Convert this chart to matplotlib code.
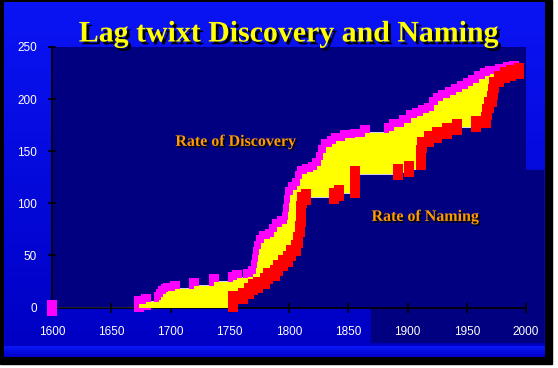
import numpy as np
import matplotlib.pyplot as plt
import matplotlib.patheffects as pe
from matplotlib.patches import Rectangle
from matplotlib.colors import LinearSegmentedColormap

# cumulative count of species discovered (magenta) and named (red)
disc_years = [1600, 1673, 1679, 1690, 1692, 1694, 1696, 1698, 1704, 1720, 1737, 1753, 1756,
              1765, 1770, 1772, 1773, 1774, 1775, 1776, 1779, 1784, 1787, 1790, 1794, 1798,
              1799, 1800, 1801, 1803, 1807, 1809, 1811, 1815, 1820, 1824, 1827, 1829, 1831,
              1836, 1840, 1847, 1856, 1864, 1884, 1889, 1897, 1903, 1908, 1913, 1918, 1922,
              1926, 1930, 1936, 1941, 1946, 1951, 1955, 1960, 1965, 1970, 1978, 1985, 1990]
disc_counts = [0, 3, 5, 7, 10, 13, 15, 16, 18, 21, 24, 26, 28,
               29, 32, 38, 44, 50, 56, 62, 66, 68, 72, 77, 80, 84,
               92, 100, 108, 113, 117, 123, 128, 130, 132, 136, 142, 148, 154,
               157, 160, 163, 164, 167, 169, 173, 177, 182, 184, 187, 189, 194,
               198, 201, 204, 207, 210, 213, 215, 219, 222, 224, 226, 228, 229]

name_years = [1753, 1753, 1761, 1766, 1770, 1774, 1780, 1782, 1788, 1791, 1795, 1799, 1802,
              1806, 1808, 1809, 1810, 1810, 1811, 1814, 1838, 1842, 1856, 1856, 1856, 1892,
              1901, 1911, 1911, 1912, 1918, 1925, 1933, 1942, 1958, 1966, 1967, 1969, 1971,
              1972, 1973, 1977, 1982, 1987, 1994]
name_counts = [3, 8, 11, 16, 20, 22, 25, 30, 33, 38, 43, 47, 52,
               57, 65, 75, 85, 95, 103, 106, 107, 110, 113, 120, 128, 130,
               133, 140, 148, 156, 162, 166, 169, 173, 176, 180, 188, 194, 200,
               207, 214, 219, 223, 225, 227]

x_ticks = [1600, 1650, 1700, 1750, 1800, 1850, 1900, 1950, 2000]
y_ticks = [0, 50, 100, 150, 200, 250]

navy = '#000080'

fig = plt.figure(figsize=(5.58, 3.68), dpi=100)
fig.patch.set_facecolor('white')

# slide background drawn in pixel coordinates
bg = fig.add_axes([0, 0, 1, 1], zorder=0)
bg.axis('off')
bg.add_patch(Rectangle((0, 0), 552, 364, color='black', zorder=0))
grad = np.linspace(0, 1, 256).reshape(-1, 1)
bg.imshow(grad, cmap=LinearSegmentedColormap.from_list('bg', ['#0a14f4', '#0000c4']),
          extent=(4, 545, 346, 2), aspect='auto', zorder=1)
band = np.linspace(0, 1, 64).reshape(-1, 1)
bg.imshow(band, cmap=LinearSegmentedColormap.from_list('band', ['#0a18f8', '#0000c8']),
          extent=(4, 545, 357, 346), aspect='auto', zorder=1)
bg.add_patch(Rectangle((525, 170), 18, 140, color=navy, zorder=2))
bg.add_patch(Rectangle((371, 308), 172, 34, color=navy, zorder=2))
bg.set_xlim(0, 558)
bg.set_ylim(368, 0)

ax = fig.add_axes([0.0932, 0.1644, 0.8495, 0.7079], zorder=1)
ax.set_facecolor(navy)

# step values on a common grid for the fill between the two curves
grid = np.union1d(disc_years, name_years)
d_idx = np.searchsorted(disc_years, grid, side='right') - 1
n_idx = np.searchsorted(name_years, grid, side='right') - 1
d_vals = np.array(disc_counts)[d_idx]
n_vals = np.where(n_idx >= 0, np.array(name_counts)[np.clip(n_idx, 0, None)], 0)

rect = [(-0.33, -0.5), (0.33, -0.5), (0.33, 0.5), (-0.33, 0.5), (-0.33, -0.5)]

ax.step(disc_years, disc_counts, where='post', color='white', lw=1.2, zorder=1)
ax.step(name_years, name_counts, where='post', color='white', lw=1.2, zorder=1)
ax.plot(disc_years, disc_counts, ls='none', marker=rect, ms=11, mew=0,
        color='#ff00ff', zorder=2, clip_on=False)
ax.fill_between(grid, n_vals, d_vals, step='post', color='#ffff00', lw=0, zorder=3)
ax.plot(name_years, name_counts, ls='none', marker=rect, ms=11, mew=0,
        color='#ff0000', zorder=4, clip_on=False)

shadow = [pe.withSimplePatchShadow(offset=(1.2, -1.2), shadow_rgbFace='black', alpha=1)]
ax.text(1755, 159, 'Rate of Discovery', color='#ff9a00', fontsize=11.5,
        family='Liberation Serif', weight='bold', ha='center', va='center',
        path_effects=shadow, zorder=5)
ax.text(1915, 87, 'Rate of Naming', color='#ff9a00', fontsize=11.5,
        family='Liberation Serif', weight='bold', ha='center', va='center',
        path_effects=shadow, zorder=5)

ax.set_xlim(1600, 2000)
ax.set_ylim(0, 250)
ax.set_xticks(x_ticks)
ax.set_yticks(y_ticks)
for s in ['top', 'right']:
    ax.spines[s].set_visible(False)
for s in ['left', 'bottom']:
    ax.spines[s].set_color('black')
    ax.spines[s].set_linewidth(1.2)
    ax.spines[s].set_zorder(1.5)
ax.tick_params(axis='x', direction='inout', length=7, width=1.2, color='black',
               labelcolor='white', labelsize=8.5, pad=10)
ax.tick_params(axis='y', direction='inout', length=6, width=1.2, color='black',
               labelcolor='white', labelsize=8.5, pad=8)
for lab in ax.get_xticklabels() + ax.get_yticklabels():
    lab.set_family('Liberation Sans')

fig.text(289 / 558, 1 - 34 / 368, 'Lag twixt Discovery and Naming', color='#ffff00',
         fontsize=21.5, family='Liberation Serif', weight='bold', ha='center', va='center',
         path_effects=[pe.withSimplePatchShadow(offset=(2, -2), shadow_rgbFace='black', alpha=1)])

fig.savefig('out.png', dpi=100)
